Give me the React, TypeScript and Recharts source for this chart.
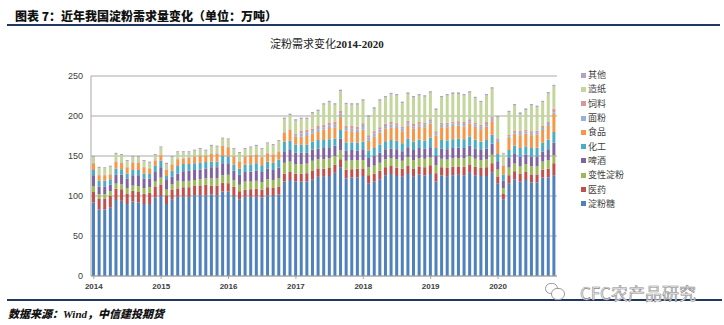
import { BarChart, Bar, XAxis, YAxis, CartesianGrid } from "recharts";

// monthly, Jan 2014 .. Nov 2020 (万吨)
const years = ["2014", "2015", "2016", "2017", "2018", "2019", "2020"];
const months = years.flatMap((y) =>
  ["01", "02", "03", "04", "05", "06", "07", "08", "09", "10", "11", "12"].map((m) => `${y}-${m}`)
).slice(0, 83);

const sugar = [
  92, 83, 83, 86, 95, 94, 90, 93, 92, 90, 90, 98,
  100, 90, 96, 99, 99, 99, 101, 101, 100.5, 102, 101, 105.5,
  105.5, 100, 96, 99, 99, 99, 98, 101, 100, 102, 118, 120,
  118, 118, 118, 121, 124, 124, 125, 129, 136, 122, 123, 123,
  125, 116, 118, 121, 126, 127.5, 125, 124, 127.5, 124, 127, 125.5,
  127.5, 118, 125.5, 124, 126, 126.5, 126, 129, 126, 125, 125, 129,
  116, 96, 116, 121, 118, 120, 117, 117, 123, 123, 126,
];
const medicine = [
  13, 14, 14, 14, 14, 14.5, 13, 13.5, 13, 13, 14, 14,
  14.5, 11, 11.5, 10.5, 12, 12, 11.5, 11.5, 13.5, 11, 12, 11,
  10.5, 11.5, 10, 9, 9.5, 10, 10, 10, 10, 10, 10, 10,
  10, 10, 10.5, 11, 10.5, 10, 10, 10, 10, 11, 10.5, 11,
  9.5, 10, 10, 10.5, 10, 10, 10.5, 10, 10, 10.5, 10, 10.5,
  11, 10.5, 10.5, 11, 10.5, 10.5, 10.5, 10.5, 10.5, 10, 11, 12,
  8.5, 6.5, 10, 10, 10, 10, 10, 10, 10, 11, 15,
];
const modified = [
  7.5, 5, 5.5, 6, 6.5, 6, 7, 6.5, 7.5, 7, 7, 6,
  8.5, 7, 7, 9.5, 7, 8, 7.5, 8.5, 8, 9, 9, 9.5,
  10.5, 8, 8, 10, 9.5, 10, 9.5, 10, 10, 10.5, 13.5, 13,
  12, 12, 12, 12, 11.5, 12, 12, 11, 11, 11, 11, 11,
  10.5, 10, 10, 10, 10, 10, 10.5, 10, 11, 10.5, 10.5, 10.5,
  9.5, 10, 10.5, 10.5, 10.5, 10.5, 10.5, 10.5, 10, 10, 10, 10.5,
  8.5, 7.5, 9.5, 9.5, 9.5, 9.5, 10, 10, 10, 11, 10,
];
const beer = [
  13.5, 10, 9.5, 8, 11.5, 12, 12, 13, 13.5, 12, 11, 12,
  13, 13, 9.5, 9, 13, 12.5, 12.5, 12, 12.5, 14, 14, 15,
  13.5, 12, 12.5, 12, 12.5, 13, 12.5, 13, 12.5, 13, 13.5, 14.5,
  14, 14, 13.5, 14, 13, 14, 14, 13, 15, 13, 13, 12,
  12.5, 11.5, 12, 12.5, 12.5, 12, 12.5, 12, 12.5, 12.5, 12.5, 12.5,
  13, 11.5, 12.5, 13, 13, 13, 13, 13, 13, 12.5, 13, 14,
  10.5, 9, 12, 12, 11.5, 12, 12, 12.5, 12.5, 13.5, 15.5,
];
const chemical = [
  6.5, 7, 7, 7, 7, 7, 6, 6.5, 6.5, 6, 5.5, 7.5,
  8, 4, 7.5, 9.5, 9, 8.5, 8.5, 8.5, 8, 7, 7, 9,
  9.5, 7.5, 7.5, 9, 9, 9, 8.5, 9, 9, 10, 13, 11.5,
  10, 10, 10, 10, 11, 10, 10, 9, 10.5, 10, 9.5, 10,
  10.5, 9.5, 10, 10.5, 10, 10.5, 10.5, 10, 11, 10.5, 10.5, 10.5,
  12, 10, 11, 11, 11, 11, 11, 11, 11, 10.5, 11, 11,
  9, 8, 10, 10.5, 11, 10.5, 11, 11, 11, 12, 13.5,
];
const food = [
  8.5, 7, 7, 6, 8.5, 8, 8, 9, 9, 8, 7, 6.5,
  7, 7.5, 7.5, 8.5, 7, 8, 8, 8.5, 7.5, 9.5, 9.5, 12.5,
  11.5, 10, 9, 10, 11, 11, 10, 10.5, 10.5, 10, 11, 13.5,
  10, 10, 11, 10, 10, 13, 14, 14, 16.5, 15, 14, 13,
  15, 12, 14, 15, 15.5, 16, 16, 15, 16, 16, 16, 16.5,
  17.5, 15.5, 16, 16.5, 16.5, 16.5, 16, 16.5, 16, 15.5, 17, 17,
  15, 11, 15, 15, 16, 16, 16, 16, 16, 17, 22.5,
];
const flour = [
  0.5, 0.5, 0.5, 0.5, 0.5, 0.5, 0.5, 0.5, 0.5, 0.5, 0.5, 0.5,
  0.5, 0.5, 0.5, 0.5, 0.5, 0.5, 0.5, 0.5, 0.5, 0.5, 0.5, 0.5,
  0.5, 0.5, 0.5, 0.5, 0.5, 0.5, 0.5, 0.5, 0.5, 0.5, 0.5, 0.5,
  2, 4, 4, 3, 3.5, 3, 3, 3, 4, 3, 3, 3,
  4.5, 4, 4, 3.5, 3.5, 3.5, 3, 3, 3, 3, 3, 3,
  3, 3, 3, 3, 3, 3, 3, 3, 3, 3, 3, 3,
  2.5, 0.5, 2, 2, 3, 2.5, 2.5, 2.5, 2.5, 2.5, 2,
];
const feed = [
  0.5, 0.5, 0.5, 0.5, 0.5, 0.5, 0.5, 0.5, 0.5, 0.5, 0.5, 0.5,
  0.5, 0.5, 0.5, 0.5, 0.5, 0.5, 0.5, 0.5, 0.5, 0.5, 0.5, 0.5,
  0.5, 0.5, 0.5, 0.5, 0.5, 0.5, 0.5, 0.5, 0.5, 0.5, 0.5, 0.5,
  2, 4, 4, 3, 4, 3, 4, 4, 4, 3, 3.5, 3.5,
  3.5, 3, 3, 3, 3, 3, 3, 3, 3, 3, 3, 3,
  2.5, 2.5, 2.5, 2.5, 2.5, 2.5, 2.5, 2.5, 2.5, 2.5, 2.5, 2.5,
  2, 0.5, 2, 2, 2.5, 2.5, 2.5, 2.5, 2.5, 2.5, 4.5,
];
const paper = [
  6.5, 8, 7.5, 8.5, 9, 8.5, 6.5, 6, 6, 6.5, 6, 6,
  8.5, 6.5, 8.5, 7.5, 6.5, 5.5, 6.5, 7.5, 5.5, 9, 8, 8,
  8.5, 8.5, 9.5, 8.5, 9, 9.5, 9, 11, 10.5, 12, 16, 17.5,
  16, 14, 13, 19, 18.5, 25, 25, 21, 24, 26.5, 26.5, 27.5,
  28, 23, 28, 33, 32.5, 34.5, 34.5, 29, 33.5, 33, 33, 32,
  33, 26.5, 31.5, 34, 34.5, 34, 33, 33, 30, 28, 33, 35,
  26, 14, 28, 31, 21, 24.5, 32, 29.5, 29.5, 35.5, 28,
];
const other = [
  1.5, 1.5, 1.5, 1.5, 1.5, 1.5, 1.5, 1.5, 1.5, 1.5, 1.5, 1.5,
  1.5, 1.5, 1.5, 1.5, 1.5, 1.5, 1.5, 1.5, 1.5, 1.5, 1.5, 1.5,
  1.5, 1.5, 1.5, 1.5, 1.5, 1.5, 1.5, 1.5, 1.5, 1.5, 2, 2,
  2, 2, 2, 2, 2, 2, 2, 2, 2, 2, 2, 2,
  2, 2, 2, 2, 2, 2, 2, 2, 2, 2, 2, 2,
  2, 2, 2, 2, 2, 2, 2, 2, 2, 2, 2, 2,
  2, 1, 2, 2, 2, 2, 2, 2, 2, 2, 2,
];

const yTicks = [0, 50, 100, 150, 200, 250];

// bottom-to-top stacking order
const series = [
  { key: "sugar", name: "淀粉糖", color: "#4F81BD", values: sugar },
  { key: "medicine", name: "医药", color: "#C0504D", values: medicine },
  { key: "modified", name: "变性淀粉", color: "#9BBB59", values: modified },
  { key: "beer", name: "啤酒", color: "#8064A2", values: beer },
  { key: "chemical", name: "化工", color: "#4BACC6", values: chemical },
  { key: "food", name: "食品", color: "#F79646", values: food },
  { key: "flour", name: "面粉", color: "#95B3D7", values: flour },
  { key: "feed", name: "饲料", color: "#D99694", values: feed },
  { key: "paper", name: "造纸", color: "#C3D69B", values: paper },
  { key: "other", name: "其他", color: "#B3A2C7", values: other },
];

const data = months.map((m, i) => {
  const row: Record<string, string | number> = { month: m };
  series.forEach((s) => (row[s.key] = s.values[i]));
  return row;
});

const NAVY = "#1F3864";
const cjk = '"Noto Sans CJK SC", "Noto Sans", sans-serif';

function Legend() {
  return (
    <div style={{ position: "absolute", left: 581, top: 68 }}>
      {[...series].reverse().map((s) => (
        <div key={s.key} style={{ display: "flex", alignItems: "center", height: 14.3 }}>
          <span style={{ width: 5, height: 5, background: s.color, marginRight: 2 }} />
          <span style={{ fontSize: 9, color: "#404040", fontFamily: cjk, lineHeight: "10px" }}>{s.name}</span>
        </div>
      ))}
    </div>
  );
}

export default function App() {
  return (
    <div style={{ position: "relative", width: 724, height: 325, background: "#fff", overflow: "hidden", fontFamily: cjk }}>
      <style>{"body{margin:0}"}</style>
      <div style={{ position: "absolute", left: 15, top: 8, fontSize: 12, fontWeight: 900, color: "#111", lineHeight: "16px", whiteSpace: "nowrap" }}>
        图表 7：近年我国淀粉需求量变化（单位：万吨）
      </div>
      <div style={{ position: "absolute", left: 7, top: 24, width: 713, height: 2, background: NAVY }} />
      <div style={{ position: "absolute", left: 270, top: 36, fontSize: 11, color: "#222", whiteSpace: "nowrap", lineHeight: "14px" }}>
        淀粉需求变化<span style={{ fontFamily: '"Liberation Serif", serif', fontWeight: 700 }}>2014-2020</span>
      </div>

      <div style={{ position: "absolute", left: 0, top: 60 }}>
        <BarChart width={560} height={240} data={data} margin={{ top: 16, right: 3, bottom: 4, left: 0 }} barSize={3}>
          <CartesianGrid vertical={false} stroke="#c6c6c6" strokeWidth={1.3} />
          <XAxis
            dataKey="month"
            interval={11}
            tickFormatter={(v: string) => v.slice(0, 4)}
            height={20}
            tickSize={3}
            tickMargin={4}
            axisLine={{ stroke: "#a6a6a6" }}
            tickLine={{ stroke: "#a6a6a6" }}
            tick={{ fontSize: 8, fill: "#404040", fontFamily: '"Liberation Sans", sans-serif', fontWeight: 700 }}
          />
          <YAxis
            domain={[0, 250]}
            ticks={yTicks}
            width={91}
            tickSize={0}
            tickMargin={8}
            axisLine={{ stroke: "#a6a6a6" }}
            tickLine={false}
            tick={{ fontSize: 9, fill: "#404040", fontFamily: '"Liberation Sans", sans-serif' }}
          />
          {series.map((s) => (
            <Bar key={s.key} dataKey={s.key} name={s.name} stackId="a" fill={s.color} isAnimationActive={false} />
          ))}
        </BarChart>
      </div>

      <Legend />

      <div style={{ position: "absolute", left: 7, top: 299, width: 715, height: 2, background: NAVY }} />
      {/* watermark */}
      <div style={{ position: "absolute", left: 545, top: 283, width: 11, height: 9, borderRadius: 6, border: "1px solid #9a9a9a", background: "#fff" }} />
      <div style={{ position: "absolute", left: 551, top: 288, width: 12, height: 10, borderRadius: 6, border: "1px solid #9a9a9a", background: "#fff" }} />
      <div
        style={{
          position: "absolute",
          left: 580,
          top: 283,
          fontSize: 17,
          color: "#f2f2f2",
          WebkitTextStroke: "0.6px #8a8a8a",
          whiteSpace: "nowrap",
          lineHeight: "20px",
        }}
      >
        CFC农产品研究
      </div>
      <div style={{ position: "absolute", left: 8, top: 306, fontSize: 11, fontWeight: 900, fontStyle: "italic", color: "#111", whiteSpace: "nowrap", lineHeight: "14px" }}>
        数据来源：<span style={{ fontFamily: '"Liberation Serif", serif' }}>Wind</span>，中信建投期货
      </div>
    </div>
  );
}
